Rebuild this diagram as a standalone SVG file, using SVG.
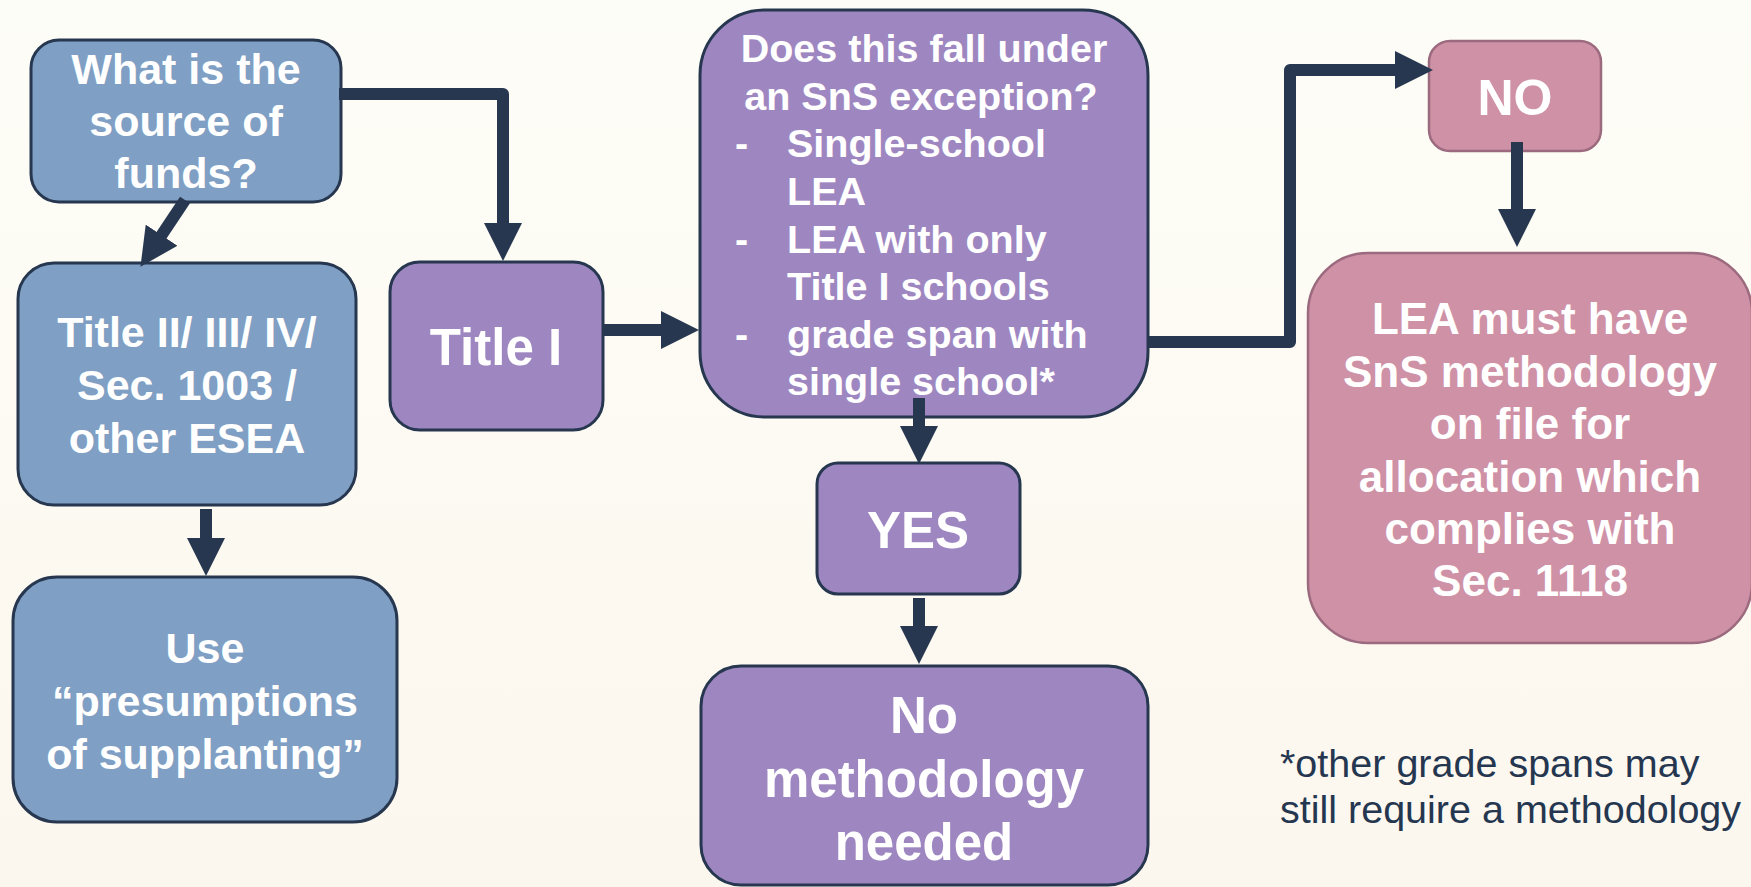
<svg xmlns="http://www.w3.org/2000/svg" width="1751" height="887" viewBox="0 0 1751 887">
<defs>
<linearGradient id="bg" x1="0" y1="0" x2="0" y2="1">
<stop offset="0" stop-color="#FDFDF7"/>
<stop offset="1" stop-color="#FCF7EE"/>
</linearGradient>
<marker id="ah" viewBox="0 0 38 38" refX="1" refY="19" markerWidth="38" markerHeight="38" markerUnits="userSpaceOnUse" orient="auto">
<path d="M0,0 L38,19 L0,38 z" fill="#26374F"/>
</marker>
<style>
.blue{fill:#7F9FC4;stroke:#26374F;stroke-width:3}
.purple{fill:#9E87C1;stroke:#26374F;stroke-width:3}
.pink{fill:#CF91A6;stroke:#9C6A7E;stroke-width:2.5}
.t{font-family:"Liberation Sans",Arial,sans-serif;font-weight:bold;fill:#FFFFFF;text-anchor:middle}
.t43{font-size:43px}
.t39{font-size:39.5px}
.t51{font-size:51px}
.t44{font-size:44px}
.tl{text-anchor:start}
.conn{fill:none;stroke:#26374F;stroke-width:12;stroke-linejoin:round;marker-end:url(#ah)}
.note{font-family:"Liberation Sans",Arial,sans-serif;font-size:39.5px;fill:#253750}
</style>
</defs>
<rect x="0" y="0" width="1751" height="887" fill="url(#bg)"/>

<g id="n-source">
<rect class="blue" x="31" y="40" width="310" height="162" rx="28"/>
<text class="t t43" x="186" y="84">What is the</text>
<text class="t t43" x="186" y="136">source of</text>
<text class="t t43" x="186" y="188">funds?</text>
</g>

<g id="n-title2">
<rect class="blue" x="18" y="263" width="338" height="242" rx="36"/>
<text class="t t43" x="187" y="347">Title II/ III/ IV/</text>
<text class="t t43" x="187" y="400">Sec. 1003 /</text>
<text class="t t43" x="187" y="453">other ESEA</text>
</g>

<g id="n-use">
<rect class="blue" x="13" y="577" width="384" height="245" rx="44"/>
<text class="t t43" x="205" y="663">Use</text>
<text class="t t43" x="205" y="716">“presumptions</text>
<text class="t t43" x="205" y="769">of supplanting”</text>
</g>

<g id="n-title1">
<rect class="purple" x="390" y="262" width="213" height="168" rx="30"/>
<text class="t t51" x="496" y="365">Title I</text>
</g>

<g id="n-question">
<rect class="purple" x="700" y="10" width="448" height="407" rx="65"/>
<text class="t t39" x="924" y="62">Does this fall under</text>
<text class="t t39" x="921" y="110">an SnS exception?</text>
<text class="t t39 tl" x="735" y="157">-</text>
<text class="t t39 tl" x="787" y="157">Single-school</text>
<text class="t t39 tl" x="787" y="205">LEA</text>
<text class="t t39 tl" x="735" y="253">-</text>
<text class="t t39 tl" x="787" y="253">LEA with only</text>
<text class="t t39 tl" x="787" y="300">Title I schools</text>
<text class="t t39 tl" x="735" y="348">-</text>
<text class="t t39 tl" x="787" y="348">grade span with</text>
<text class="t t39 tl" x="787" y="395">single school*</text>
</g>

<g id="n-yes">
<rect class="purple" x="817" y="463" width="203" height="131" rx="21"/>
<text class="t t51" x="918" y="548">YES</text>
</g>

<g id="n-nomethod">
<rect class="purple" x="701" y="666" width="447" height="219" rx="40"/>
<text class="t t51" x="924" y="733">No</text>
<text class="t t51" x="924" y="797">methodology</text>
<text class="t t51" x="924" y="860">needed</text>
</g>

<g id="n-no">
<rect class="pink" x="1429" y="41" width="172" height="110" rx="21"/>
<text class="t" style="font-size:50px" x="1515" y="115">NO</text>
</g>

<g id="n-lea">
<rect class="pink" x="1308" y="253" width="444" height="390" rx="60"/>
<text class="t t44" x="1530" y="334">LEA must have</text>
<text class="t t44" x="1530" y="387">SnS methodology</text>
<text class="t t44" x="1530" y="439">on file for</text>
<text class="t t44" x="1530" y="492">allocation which</text>
<text class="t t44" x="1530" y="544">complies with</text>
<text class="t t44" x="1530" y="596">Sec. 1118</text>
</g>

<g id="note">
<text class="note" x="1280" y="777">*other grade spans may</text>
<text class="note" x="1280" y="823">still require a methodology</text>
</g>

<g id="connectors">
<path class="conn" d="M339,94 H503 V224"/>
<path class="conn" d="M185,200 L161,236"/>
<path class="conn" d="M206,509 V539"/>
<path class="conn" d="M603,330 H662"/>
<path class="conn" d="M919,398 V427"/>
<path class="conn" d="M919,598 V627"/>
<path class="conn" d="M1148,342 H1290 V70 H1396"/>
<path class="conn" d="M1517,142 V210"/>
</g>
</svg>
